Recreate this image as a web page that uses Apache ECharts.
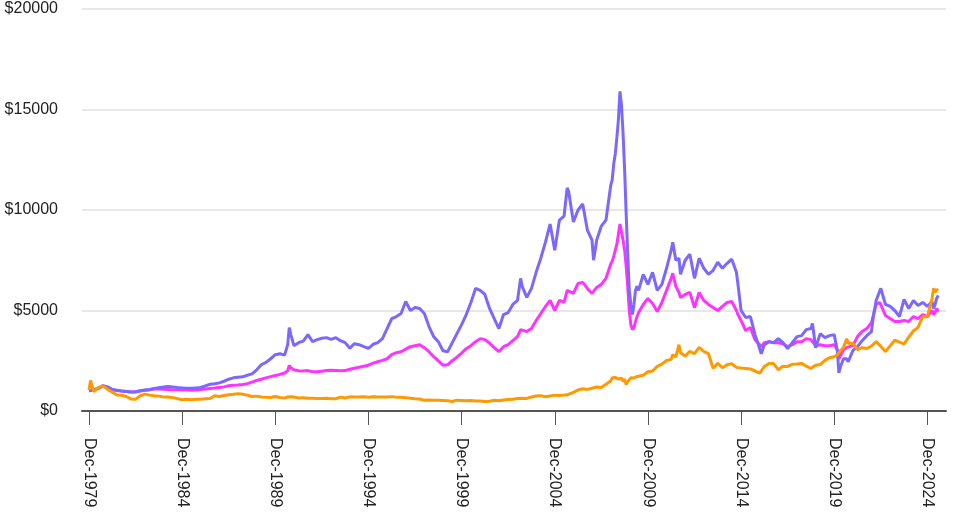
<!DOCTYPE html>
<html>
<head>
<meta charset="utf-8">
<script src="https://cdn.jsdelivr.net/npm/echarts@6/dist/echarts.min.js"></script>
<style>
html,body{margin:0;padding:0;background:#fff;}
#chart{width:965px;height:518px;}
</style>
</head>
<body>
<div id="chart"></div>
<script>
// Dates (YYYY-MM) shared by the three series
const dates = [
'1979-12','1980-01','1980-03','1980-06','1980-09','1980-12',
'1981-03','1981-06','1981-09','1981-12','1982-03','1982-06','1982-09','1982-12',
'1983-03','1983-06','1983-09','1983-12','1984-03','1984-06','1984-09','1984-12',
'1985-03','1985-06','1985-09','1985-12','1986-03','1986-06','1986-09','1986-12',
'1987-03','1987-06','1987-09','1987-12','1988-03','1988-06','1988-09','1988-12',
'1989-03','1989-06','1989-09','1989-12','1990-03','1990-06','1990-08','1990-09','1990-10','1990-12',
'1991-03','1991-06','1991-09','1991-12','1992-03','1992-06','1992-09','1992-12',
'1993-03','1993-06','1993-09','1993-12','1994-03','1994-06','1994-09','1994-12',
'1995-03','1995-06','1995-09','1995-12','1996-03','1996-06','1996-09','1996-12',
'1997-03','1997-06','1997-09','1997-12','1998-03','1998-06','1998-09','1998-12',
'1999-03','1999-06','1999-09','1999-12','2000-03','2000-06','2000-09','2000-12',
'2001-03','2001-06','2001-09','2001-12','2002-03','2002-06','2002-09','2002-12',
'2003-02','2003-03','2003-06','2003-09','2003-12','2004-03','2004-06','2004-09','2004-12',
'2005-03','2005-06','2005-08','2005-09','2005-12','2006-03','2006-06','2006-09','2006-12',
'2007-01','2007-03','2007-06','2007-09','2007-12',
'2008-01','2008-02','2008-03','2008-04','2008-05','2008-06','2008-07','2008-08','2008-09','2008-10','2008-11','2008-12',
'2009-01','2009-02','2009-03','2009-04','2009-05','2009-06','2009-09','2009-12',
'2010-03','2010-06','2010-09','2010-12','2011-03','2011-04','2011-06','2011-08','2011-09','2011-12',
'2012-03','2012-06','2012-09','2012-12','2013-03','2013-06','2013-09','2013-12',
'2014-03','2014-06','2014-09','2014-10','2014-12','2015-03','2015-06','2015-09','2015-12',
'2016-01','2016-03','2016-06','2016-09','2016-12','2017-03','2017-06','2017-09','2017-12',
'2018-03','2018-06','2018-09','2018-10','2018-12','2019-03','2019-06','2019-09','2019-12',
'2020-02','2020-03','2020-04','2020-06','2020-08','2020-09','2020-12',
'2021-03','2021-06','2021-09','2021-12','2022-01','2022-03','2022-05','2022-06','2022-09','2022-12',
'2023-03','2023-06','2023-09','2023-12','2024-03','2024-06','2024-09','2024-12',
'2025-03','2025-04','2025-05','2025-06','2025-07'
];

const purpleValues = [
1000,1020,1050,1130,1260,1200,
1070,1030,1000,975,950,960,1010,1050,
1070,1120,1160,1200,1220,1200,1170,1150,
1130,1130,1150,1170,1250,1330,1360,1400,
1480,1580,1650,1680,1700,1780,1850,2050,
2300,2420,2600,2800,2850,2780,3300,4150,3800,3250,
3400,3480,3800,3450,3550,3620,3650,3560,
3650,3500,3400,3120,3350,3300,3200,3120,
3320,3400,3600,4100,4600,4700,4850,5450,
5000,5150,5100,4850,4200,3700,3450,3000,
2950,3400,3850,4300,4800,5400,6100,6000,
5800,5100,4600,4100,4800,4900,5300,5500,
6600,6200,5650,6100,6900,7600,8400,9300,8000,
9500,9700,11100,10900,9400,10000,10300,9000,8500,
7500,8500,9200,9500,11200,
11500,12300,12800,13600,14500,15900,15200,13800,12000,9800,7800,6000,
5300,4800,5300,6000,6200,6000,6800,6300,
6900,6000,6300,7100,8000,8400,7500,7600,6800,7500,
7800,6600,7600,7100,6800,7000,7400,7100,
7350,7550,6900,6300,5000,4650,4700,3800,3100,
2850,3300,3450,3400,3600,3400,3100,3400,3700,
3750,4050,4100,4350,3150,3850,3650,3750,3800,
3000,1900,2200,2600,2600,2450,3000,
3200,3500,3750,3950,4600,5500,5900,6100,5300,5200,
5000,4700,5550,5100,5500,5250,5400,5200,
5450,5100,5300,5600,5750
];

const magentaValues = [
1000,1020,1050,1120,1250,1190,
1060,1020,990,965,940,945,995,1030,
1050,1090,1100,1080,1070,1060,1060,1050,
1040,1030,1050,1070,1100,1120,1140,1170,
1200,1260,1280,1290,1320,1360,1440,1520,
1580,1650,1710,1770,1820,1890,2000,2270,2150,2050,
2000,1990,2010,1950,1950,1980,2010,2030,
2020,2000,2010,2080,2130,2180,2230,2280,
2380,2450,2520,2600,2800,2900,2950,3080,
3200,3250,3300,3150,2950,2700,2500,2280,
2300,2500,2680,2880,3100,3250,3450,3600,
3550,3380,3150,2950,3200,3300,3500,3700,
4050,4000,3950,4100,4500,4850,5200,5500,5000,
5500,5400,6000,6000,5850,6350,6400,6100,5850,
5800,6150,6300,6600,7300,
7450,7700,8000,8300,8800,9300,8900,8500,8000,7200,6200,5000,
4300,4050,4150,4450,4700,4900,5300,5600,
5350,4950,5400,6000,6600,6850,6200,5900,5650,5800,
5900,5150,5900,5500,5300,5150,5000,5200,
5400,5450,5000,4800,4500,4000,4150,3550,3300,
3200,3400,3450,3400,3400,3350,3200,3300,3450,
3450,3600,3550,3600,3250,3300,3250,3250,3300,
3050,2600,2650,3050,3150,3100,3250,
3700,3950,4100,4400,4700,5300,5400,5300,4750,4600,
4450,4450,4500,4450,4700,4600,4800,4700,
5000,4800,4900,5100,4950
];

const orangeValues = [
1050,1520,960,1160,1250,1080,
930,800,780,720,600,580,760,840,
790,760,740,700,700,665,615,560,
580,565,580,590,615,620,760,720,
770,810,830,865,830,790,720,740,
700,680,670,720,670,640,700,735,710,695,
650,665,640,640,620,620,630,605,
610,690,645,705,700,695,710,690,
705,700,695,700,715,690,685,665,
630,605,600,530,545,535,530,520,
505,475,540,525,505,520,495,495,
470,490,530,505,545,575,585,625,
640,605,625,700,750,765,710,750,790,
770,790,800,850,925,1045,1105,1075,1135,
1150,1190,1170,1330,1495,
1650,1720,1670,1610,1590,1665,1630,1480,1580,1310,1460,1555,
1650,1690,1640,1590,1720,1670,1780,1950,
1990,2220,2330,2510,2570,2800,2690,3300,2900,2730,
2970,2850,3170,2960,2850,2130,2370,2150,
2300,2350,2170,2110,2140,2120,2090,1990,1890,
1990,2210,2360,2360,2050,2230,2220,2320,2340,
2370,2230,2120,2180,2280,2310,2520,2650,2700,
2800,2820,3000,3160,3600,3370,3370,
3050,3150,3110,3230,3220,3460,3300,3230,2960,3240,
3520,3430,3340,3680,3980,4160,4700,4690,
5580,6100,5900,6050,6000
];

const tickLabels = ['Dec-1979','Dec-1984','Dec-1989','Dec-1994','Dec-1999','Dec-2004','Dec-2009','Dec-2014','Dec-2019','Dec-2024'];
const yTicks = [0, 5000, 10000, 15000, 20000];

const monNames = {Jan:1,Feb:2,Mar:3,Apr:4,May:5,Jun:6,Jul:7,Aug:8,Sep:9,Oct:10,Nov:11,Dec:12};
function monthIndex(str) { // months since Dec-1979
  const p = str.split('-');
  return (parseInt(p[0], 10) - 1979) * 12 + (parseInt(p[1], 10) - 12);
}
function labelIndex(lbl) {
  const p = lbl.split('-');
  return (parseInt(p[1], 10) - 1979) * 12 + (monNames[p[0]] - 12);
}
const tickPos = tickLabels.map(labelIndex);
const labelAt = {};
tickLabels.forEach((l, i) => { labelAt[tickPos[i]] = l; });

function pairs(vals) { return dates.map((d, i) => [monthIndex(d), vals[i]]); }

const chart = echarts.init(document.getElementById('chart'), null, {renderer: 'canvas'});
const FONT = '"Liberation Sans", Arial, Helvetica, sans-serif';
chart.setOption({
  animation: false,
  backgroundColor: '#ffffff',
  grid: {left: 82, right: 19, top: 9, bottom: 107, containLabel: false, outerBoundsMode: 'none'},
  xAxis: {
    type: 'value',
    min: -4.5,
    max: 552,
    axisLine: {show: true, onZero: false, lineStyle: {color: '#555555', width: 2}},
    axisTick: {show: true, length: 14, lineStyle: {color: '#555555', width: 1}, customValues: tickPos},
    axisLabel: {
      customValues: tickPos,
      rotate: -90,
      margin: 27,
      fontSize: 16,
      fontFamily: FONT,
      color: '#222222',
      formatter: v => labelAt[Math.round(v)] || ''
    },
    splitLine: {show: false}
  },
  yAxis: {
    type: 'value',
    min: 0,
    max: 20000,
    interval: 5000,
    axisLine: {show: false},
    axisTick: {show: false},
    axisLabel: {
      margin: 24,
      fontSize: 16,
      fontFamily: FONT,
      color: '#222222',
      formatter: v => '$' + v
    },
    splitLine: {show: true, lineStyle: {color: '#e8e8e8', width: 2}}
  },
  series: [
    {name: 'Magenta', type: 'line', data: pairs(magentaValues), showSymbol: false, symbol: 'none',
     lineStyle: {color: '#ff33ff', width: 3}, itemStyle: {color: '#ff33ff'}, z: 2},
    {name: 'Purple', type: 'line', data: pairs(purpleValues), showSymbol: false, symbol: 'none',
     lineStyle: {color: '#7b68ff', width: 3}, itemStyle: {color: '#7b68ff'}, z: 3},
    {name: 'Orange', type: 'line', data: pairs(orangeValues), showSymbol: false, symbol: 'none',
     lineStyle: {color: '#ff9900', width: 3}, itemStyle: {color: '#ff9900'}, z: 4}
  ]
});
</script>
</body>
</html>
